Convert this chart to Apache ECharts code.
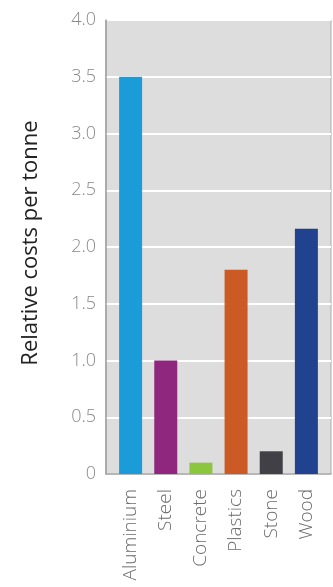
<!DOCTYPE html>
<html>
<head>
<meta charset="utf-8">
<script src="https://cdn.jsdelivr.net/npm/echarts@6/dist/echarts.min.js"></script>
<style>
  html, body { margin: 0; padding: 0; background: #ffffff; }
  #chart { width: 333px; height: 587px; }
</style>
</head>
<body>
<div id="chart"></div>
<script>
// Materials and their relative cost per tonne
const materials = ['Aluminium', 'Steel', 'Concrete', 'Plastics', 'Stone', 'Wood'];
const relativeCost = [3.5, 1.0, 0.1, 1.8, 0.2, 2.16];
const barColors = ['#1b9bd7', '#8e277d', '#8cc63e', '#cb5a25', '#404046', '#21438f'];
const yTicks = [0, 0.5, 1.0, 1.5, 2.0, 2.5, 3.0, 3.5, 4.0];
const yTitle = 'Relative costs per tonne';

const positions = materials.map((_, i) => i);

const chart = echarts.init(document.getElementById('chart'), null, { renderer: 'canvas' });

chart.setOption({
  animation: false,
  backgroundColor: '#ffffff',
  grid: {
    left: 106, right: 2, top: 20, bottom: 113,
    show: true,
    backgroundColor: '#dddddd',
    borderColor: '#a9a9a9',
    borderWidth: 1
  },
  xAxis: {
    type: 'value',
    min: -0.7,
    max: 5.7,
    splitLine: { show: false },
    axisTick: { show: false },
    axisLine: { show: true, onZero: false, lineStyle: { color: '#a0a0a0', width: 1.5 } },
    axisLabel: {
      customValues: positions,
      rotate: 90,
      margin: 15,
      color: '#6b6b6b',
      fontFamily: 'Open Sans',
      fontSize: 19,
      fontWeight: 300,
      formatter: v => materials[Math.round(v)]
    }
  },
  yAxis: {
    type: 'value',
    min: 0,
    max: 4,
    interval: 0.5,
    name: yTitle,
    nameLocation: 'middle',
    nameGap: 64,
    nameRotate: 90,
    nameTextStyle: {
      color: '#222222',
      fontFamily: 'Open Sans',
      fontSize: 22,
      padding: [0, 0, 0, 8]
    },
    axisLine: { show: true, onZero: false, lineStyle: { color: '#a0a0a0', width: 1.5 } },
    axisTick: { show: false },
    splitLine: { show: true, lineStyle: { color: '#ffffff', width: 2 } },
    axisLabel: {
      margin: 10,
      color: '#8a8a8a',
      fontFamily: 'Open Sans',
      fontSize: 18,
      fontWeight: 300,
      customValues: yTicks,
      formatter: v => (v === 0 ? '0' : v.toFixed(1))
    }
  },
  series: [{
    type: 'bar',
    barWidth: 23,
    data: positions.map((p, i) => ({
      value: [p, relativeCost[i]],
      itemStyle: { color: barColors[i] }
    }))
  }]
});
</script>
</body>
</html>
